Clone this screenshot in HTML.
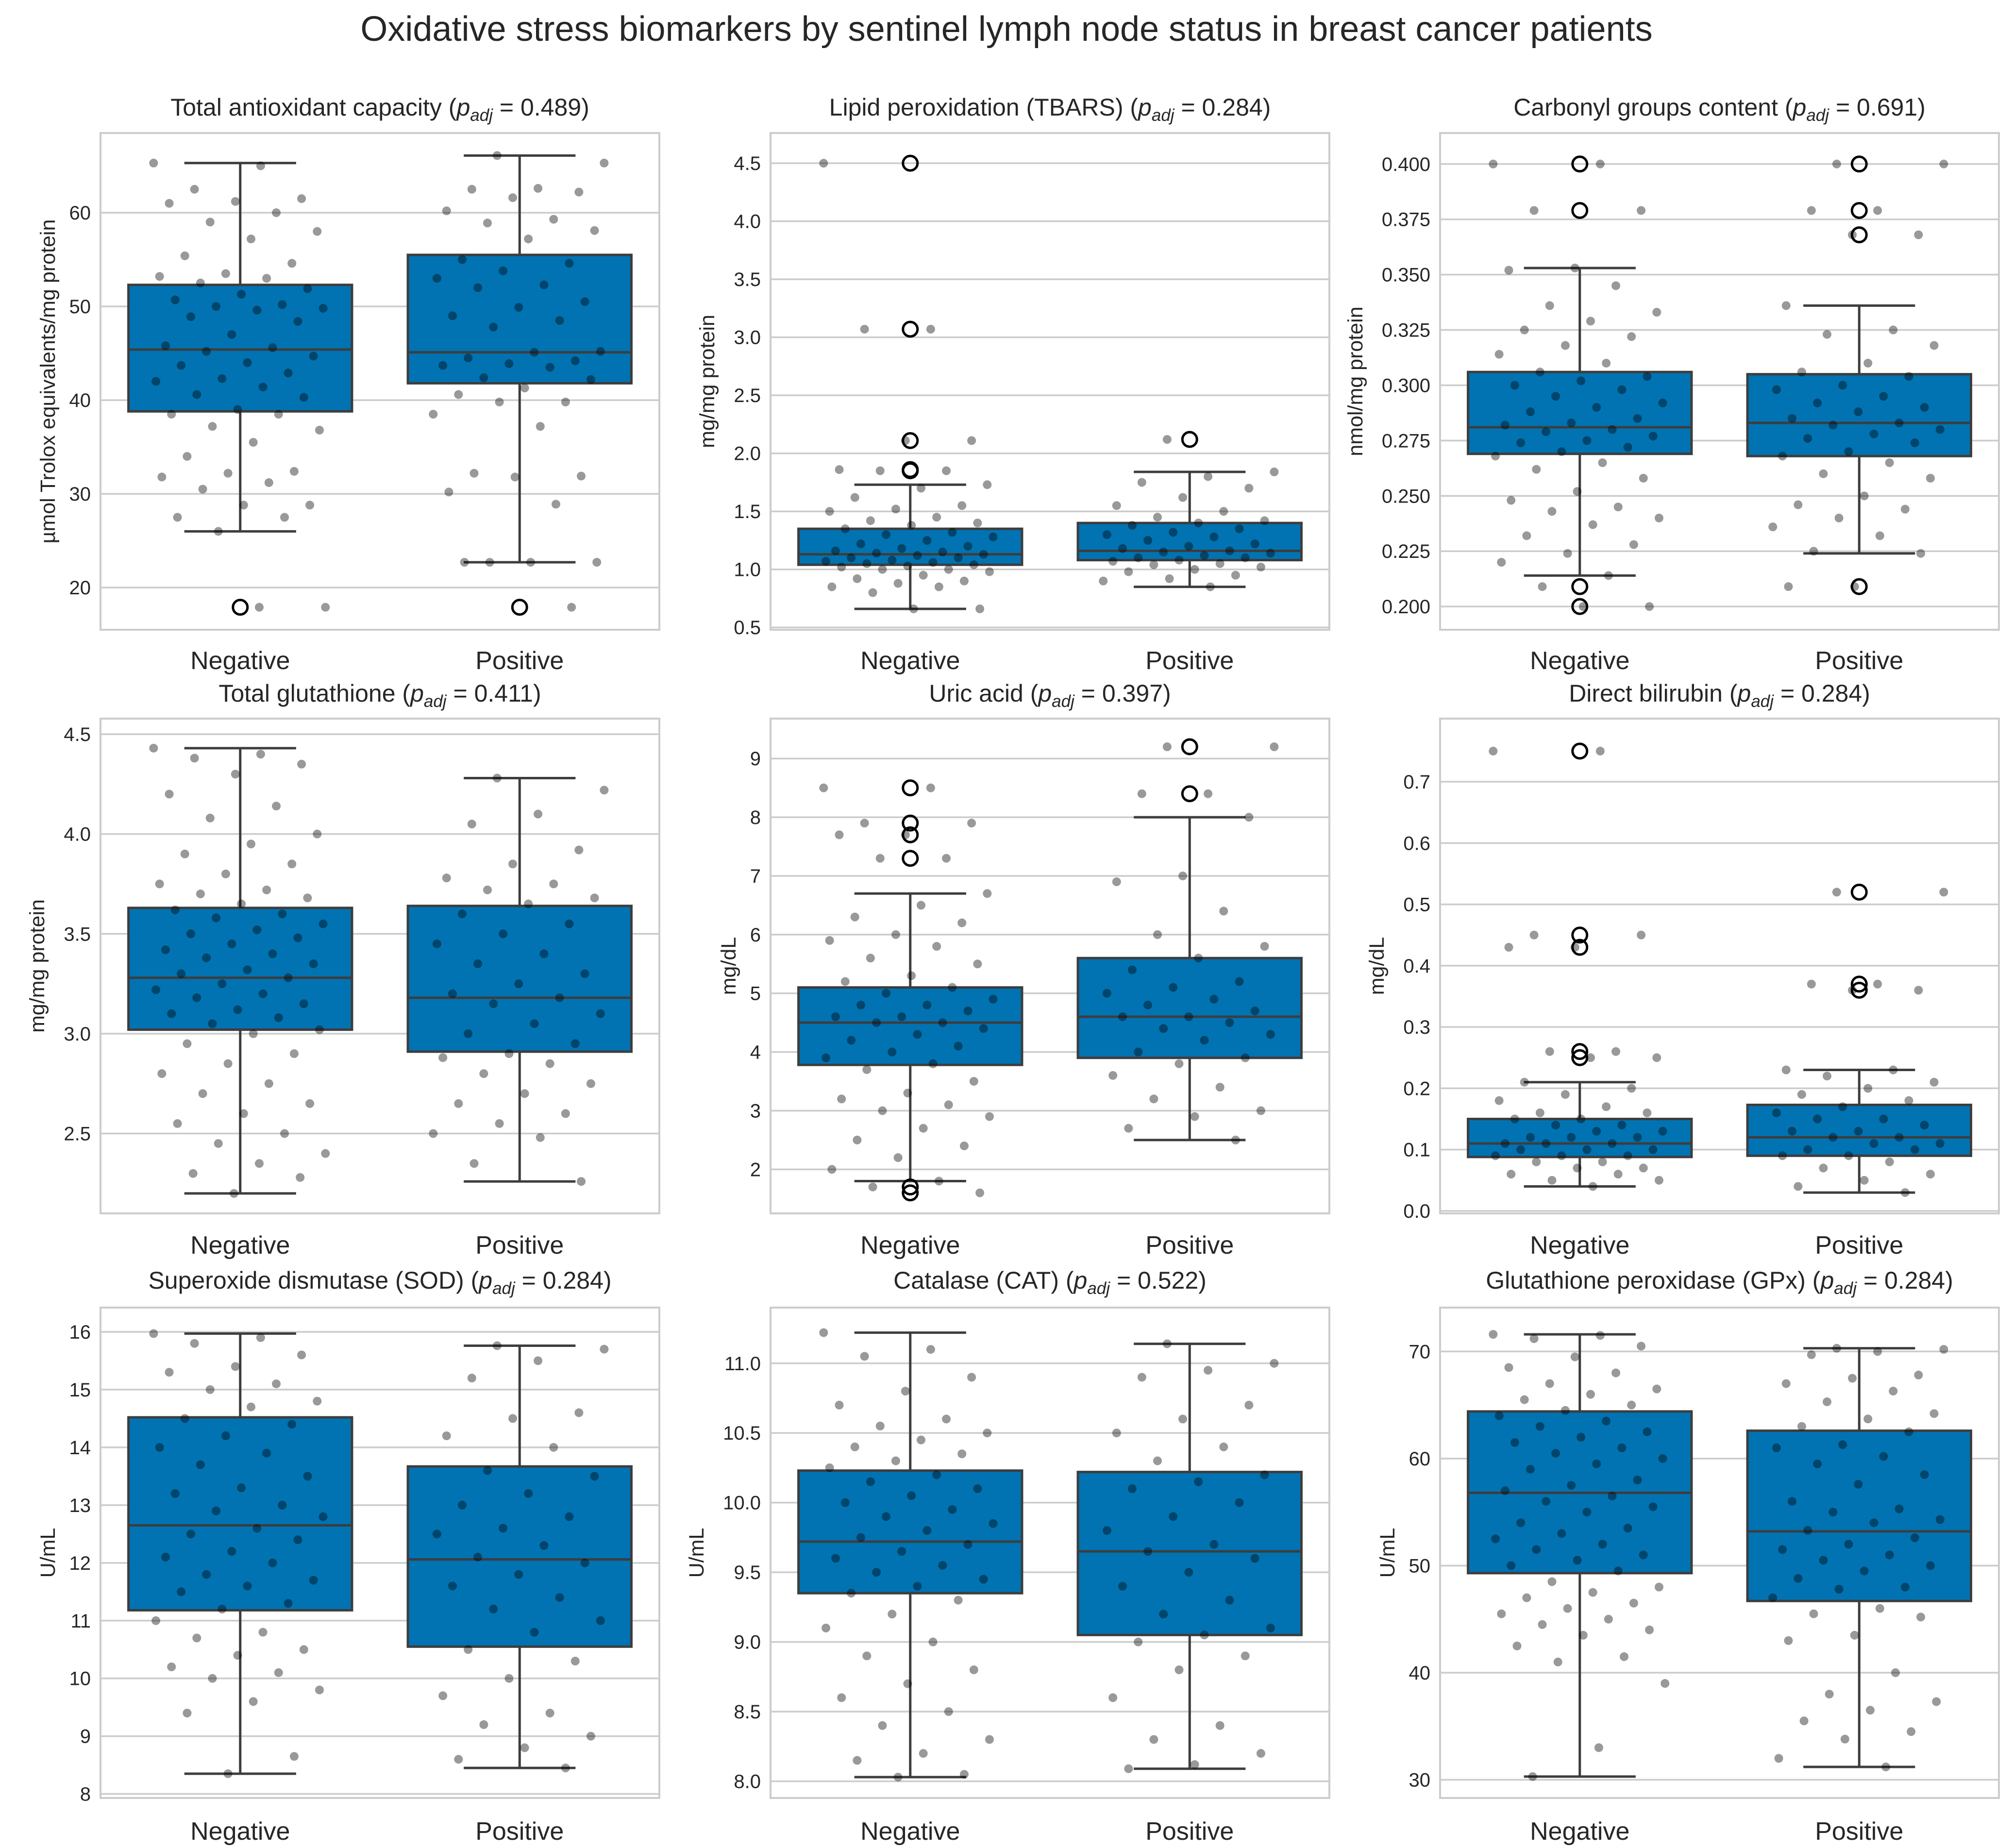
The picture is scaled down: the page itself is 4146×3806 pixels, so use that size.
<!DOCTYPE html>
<html><head><meta charset="utf-8"><style>
html,body{margin:0;padding:0;background:#fff;}
svg{display:block;font-family:"Liberation Sans","DejaVu Sans",sans-serif;}
</style></head><body>
<svg id="fig" width="4146" height="3806" viewBox="0 0 4146 3806" xmlns="http://www.w3.org/2000/svg">
<rect width="4146" height="3806" fill="#fff"/>
<text x="2073" y="84" font-size="72" text-anchor="middle" fill="#262626">Oxidative stress biomarkers by sentinel lymph node status in breast cancer patients</text>
</svg>
<script>
const categories = ["Negative","Positive"];
const titles = ["Total antioxidant capacity","Lipid peroxidation (TBARS)","Carbonyl groups content","Total glutathione","Uric acid","Direct bilirubin","Superoxide dismutase (SOD)","Catalase (CAT)","Glutathione peroxidase (GPx)"];
const pvals = ["0.489","0.284","0.691","0.411","0.397","0.284","0.284","0.522","0.284"];
const ylabels = ["µmol Trolox equivalents/mg protein","mg/mg protein","nmol/mg protein","mg/mg protein","mg/dL","mg/dL","U/mL","U/mL","U/mL"];
const ylims = [[15.5,68.5],[0.48,4.76],[0.1895,0.414],[2.10,4.578],[1.25,9.68],[-0.004,0.803],[7.93,16.42],[7.88,11.4],[28.3,74.1]];
const yticks = [[20,30,40,50,60],[0.5,1.0,1.5,2.0,2.5,3.0,3.5,4.0,4.5],[0.200,0.225,0.250,0.275,0.300,0.325,0.350,0.375,0.400],[2.5,3.0,3.5,4.0,4.5],[2,3,4,5,6,7,8,9],[0.0,0.1,0.2,0.3,0.4,0.5,0.6,0.7],[8,9,10,11,12,13,14,15,16],[8.0,8.5,9.0,9.5,10.0,10.5,11.0],[30,40,50,60,70]];
const tickDecimals = [0,1,3,1,0,1,0,1,0];
// [whiskerLow, q1, median, q3, whiskerHigh] per group
const boxNeg = [[26.0,38.8,45.4,52.3,65.3],[0.66,1.04,1.13,1.35,1.73],[0.214,0.269,0.281,0.306,0.353],[2.20,3.02,3.28,3.63,4.43],[1.8,3.78,4.5,5.1,6.7],[0.04,0.088,0.11,0.15,0.21],[8.35,11.18,12.65,14.52,15.97],[8.03,9.35,9.72,10.23,11.22],[30.3,49.3,56.8,64.4,71.6]];
const boxPos = [[22.7,41.8,45.1,55.5,66.1],[0.85,1.08,1.16,1.40,1.84],[0.224,0.268,0.283,0.305,0.336],[2.26,2.91,3.18,3.64,4.28],[2.5,3.9,4.6,5.6,8.0],[0.03,0.09,0.12,0.173,0.23],[8.45,10.55,12.06,13.67,15.76],[8.09,9.05,9.65,10.22,11.14],[31.2,46.7,53.2,62.6,70.3]];
const outNeg = [[17.9],[4.5,3.07,2.11,1.86,1.85],[0.400,0.379,0.209,0.200],[],[8.5,7.9,7.7,7.3,1.7,1.6],[0.75,0.45,0.43,0.26,0.25],[],[],[]];
const outPos = [[17.9],[2.12],[0.400,0.379,0.368,0.209],[],[9.2,8.4],[0.52,0.37,0.36],[],[],[]];
const ptsNeg = [
[65.3,65.0,62.5,61.5,61.2,61.0,60,59,58,57.2,55.4,54.6,53.5,53.2,53,52.5,51.9,51.3,50.7,50.2,50,49.8,49.6,48.9,48.4,47,45.8,45.6,45.2,44.7,44,43.7,42.9,42.3,42,41.4,40.6,40.3,39,38.5,38.5,37.2,36.8,35.5,34,32.4,32.2,31.8,31.2,30.5,28.8,28.8,27.5,27.5,26,17.9,17.9],
[4.5,3.07,3.07,2.11,2.11,1.86,1.85,1.85,1.73,1.7,1.62,1.55,1.52,1.5,1.45,1.42,1.4,1.38,1.35,1.32,1.3,1.28,1.25,1.22,1.2,1.18,1.16,1.15,1.14,1.13,1.12,1.1,1.1,1.08,1.07,1.06,1.05,1.04,1.03,1.02,1.0,1.0,0.98,0.95,0.92,0.9,0.88,0.85,0.85,0.8,0.66,0.66],
[0.4,0.4,0.379,0.379,0.353,0.352,0.345,0.336,0.333,0.329,0.325,0.322,0.318,0.314,0.31,0.306,0.304,0.302,0.3,0.298,0.295,0.292,0.29,0.288,0.285,0.283,0.282,0.28,0.279,0.277,0.275,0.274,0.272,0.27,0.268,0.265,0.262,0.258,0.252,0.248,0.245,0.243,0.24,0.237,0.232,0.228,0.224,0.22,0.214,0.209,0.2,0.2],
[4.43,4.4,4.38,4.35,4.3,4.2,4.14,4.08,4.0,3.95,3.9,3.85,3.8,3.75,3.72,3.7,3.68,3.65,3.62,3.6,3.58,3.55,3.52,3.5,3.48,3.45,3.42,3.4,3.38,3.35,3.32,3.3,3.28,3.25,3.22,3.2,3.18,3.15,3.12,3.1,3.08,3.05,3.02,3.0,2.95,2.9,2.85,2.8,2.75,2.7,2.65,2.6,2.55,2.5,2.45,2.4,2.35,2.3,2.28,2.2],
[8.5,8.5,7.9,7.9,7.7,7.7,7.3,7.3,6.7,6.5,6.3,6.2,6.0,5.9,5.8,5.6,5.5,5.3,5.2,5.1,5.0,4.9,4.8,4.8,4.7,4.6,4.6,4.5,4.5,4.4,4.3,4.2,4.1,4.0,3.9,3.8,3.7,3.5,3.3,3.2,3.1,3.0,2.9,2.7,2.5,2.4,2.2,2.0,1.8,1.7,1.6],
[0.75,0.75,0.45,0.45,0.43,0.43,0.26,0.26,0.25,0.25,0.21,0.2,0.19,0.18,0.17,0.16,0.16,0.15,0.15,0.14,0.14,0.13,0.13,0.12,0.12,0.12,0.11,0.11,0.11,0.1,0.1,0.1,0.09,0.09,0.09,0.08,0.08,0.07,0.07,0.06,0.06,0.05,0.05,0.04],
[15.97,15.9,15.8,15.6,15.4,15.3,15.1,15.0,14.8,14.7,14.5,14.4,14.2,14.0,13.9,13.7,13.5,13.3,13.2,13.0,12.9,12.8,12.6,12.5,12.4,12.2,12.1,12.0,11.8,11.7,11.6,11.5,11.3,11.2,11.0,10.8,10.7,10.5,10.4,10.2,10.1,10.0,9.8,9.6,9.4,8.65,8.35],
[11.22,11.1,11.05,10.9,10.8,10.7,10.6,10.55,10.5,10.45,10.4,10.35,10.3,10.25,10.2,10.15,10.1,10.05,10.0,9.95,9.9,9.85,9.8,9.75,9.7,9.65,9.6,9.55,9.5,9.45,9.4,9.35,9.3,9.2,9.1,9.0,8.9,8.8,8.7,8.6,8.5,8.4,8.3,8.2,8.15,8.05,8.03],
[71.6,71.5,71.2,70.5,69.5,68.5,68,67,66.5,66,65.5,65,64.5,64,63.5,63,62.5,62,61.5,61,60.5,60,59.5,59,58,57.5,57,56.5,56,55.5,55,54,53.5,53,52.5,52,51.5,51,50.5,50,49.5,48.5,48,47.5,47,46.5,46,45.5,45,44.5,44,43.5,42.5,41.5,41,39,33,30.3]];
const ptsPos = [
[66.1,65.3,62.6,62.5,62.2,61.6,60.2,59.3,58.9,58.1,57.2,55,54.6,53.8,53,52.3,52,50.5,49.9,49,48.5,47.8,45.2,45.1,44.5,44.2,43.9,43.7,43.5,42.4,42.2,41.3,40.6,39.8,39.8,38.5,37.2,32.2,31.9,31.8,30.2,28.9,22.7,22.7,22.7,22.7,17.9],
[2.12,1.84,1.8,1.75,1.7,1.62,1.55,1.5,1.45,1.42,1.4,1.38,1.35,1.32,1.3,1.28,1.25,1.22,1.2,1.18,1.16,1.15,1.14,1.12,1.1,1.1,1.08,1.07,1.05,1.04,1.02,1.0,0.98,0.95,0.92,0.9,0.85],
[0.4,0.4,0.379,0.379,0.368,0.368,0.336,0.325,0.323,0.318,0.31,0.306,0.304,0.3,0.298,0.295,0.292,0.29,0.288,0.285,0.283,0.282,0.28,0.278,0.276,0.274,0.27,0.268,0.265,0.26,0.258,0.25,0.246,0.244,0.24,0.236,0.232,0.225,0.224,0.209,0.209],
[4.28,4.22,4.1,4.05,3.92,3.85,3.78,3.75,3.72,3.68,3.65,3.6,3.55,3.5,3.45,3.4,3.35,3.3,3.25,3.2,3.18,3.15,3.1,3.05,3.0,2.95,2.9,2.88,2.85,2.8,2.75,2.7,2.65,2.6,2.55,2.5,2.48,2.35,2.26],
[9.2,9.2,8.4,8.4,8.0,7.0,6.9,6.4,6.0,5.8,5.6,5.4,5.2,5.1,5.0,4.9,4.8,4.7,4.6,4.6,4.5,4.4,4.3,4.2,4.0,3.9,3.8,3.6,3.4,3.2,3.0,2.9,2.7,2.5],
[0.52,0.52,0.37,0.37,0.36,0.36,0.23,0.23,0.22,0.21,0.2,0.19,0.18,0.17,0.16,0.15,0.15,0.14,0.13,0.13,0.12,0.12,0.11,0.11,0.1,0.1,0.09,0.09,0.08,0.07,0.06,0.05,0.04,0.03],
[15.76,15.7,15.5,15.2,14.6,14.5,14.2,14.0,13.6,13.5,13.2,13.0,12.8,12.6,12.5,12.3,12.1,12.0,11.8,11.6,11.4,11.2,11.0,10.8,10.5,10.3,10.0,9.7,9.4,9.2,9.0,8.8,8.6,8.45],
[11.14,11.0,10.95,10.9,10.7,10.6,10.5,10.4,10.3,10.2,10.15,10.1,10.0,9.9,9.8,9.7,9.65,9.6,9.5,9.4,9.3,9.2,9.1,9.05,9.0,8.9,8.8,8.6,8.4,8.3,8.2,8.12,8.09],
[70.3,70.2,70,69.7,67.8,67.5,67,66.3,65.3,64.2,63.7,63,62.5,61.3,61,60.2,59.5,58.5,57.6,56,55.3,55,54.3,54,53.3,52.6,52,51.5,51,50.5,50,49.5,48.8,48,47.8,47,46,45.5,45.2,43.5,43,40,38,37.3,36.5,35.5,34.5,33.8,32,31.2]];

const NS="http://www.w3.org/2000/svg";
const svg=document.getElementById('fig');
const colX=[[207,1358],[1587,2738],[2966,4117]];
const rowY=[[274,1297],[1480,2499],[2693,3703]];
const titleY=[238,1445,2654];
const catY=[1378,2582,3789];
function mk(tag,attrs,parent){const e=document.createElementNS(NS,tag);for(const k in attrs)e.setAttribute(k,attrs[k]);(parent||svg).appendChild(e);return e;}

for(let p=0;p<9;p++){
  const r=Math.floor(p/3),c=p%3;
  const L=colX[c][0],R=colX[c][1],T=rowY[r][0],B=rowY[r][1],W=R-L;
  const [y0,y1]=ylims[p];
  const yS=v=>B-(v-y0)/(y1-y0)*(B-T);
  const xS=i=>L+W*(0.25+0.5*i);
  const g=mk('g',{});
  
  
  let maxw=0;
  yticks[p].forEach(t=>{
    const y=yS(t);
    const gl=mk('line',{x1:L,x2:R,y1:y,y2:y,stroke:'#cccccc','stroke-width':3.5},g);
    
    
    const s=t.toFixed(tickDecimals[p]);
    maxw=Math.max(maxw,s.length*22);
    const tx=mk('text',{x:L-20,y:y+14,'font-size':40,'text-anchor':'end',fill:'#262626'},g);
    tx.textContent=s;
    
    
  });
  const fr=mk('rect',{x:L,y:T,width:W,height:B-T,fill:'none',stroke:'#cccccc','stroke-width':4},g);
  
  
  const lx=L-20-maxw-30;
  const yl=mk('text',{x:lx,y:(T+B)/2,'font-size':43,'text-anchor':'middle',fill:'#262626',transform:`rotate(-90 ${lx} ${(T+B)/2})`},g);
  yl.textContent=ylabels[p];
  
  
  const tt=mk('text',{x:(L+R)/2,y:titleY[r],'font-size':50,'text-anchor':'middle',fill:'#262626'},g);
  tt.innerHTML=titles[p]+' (<tspan font-style="italic">p</tspan><tspan font-style="italic" font-size="35" dy="11">adj</tspan><tspan dy="-11"> = '+pvals[p]+')</tspan>';
  
  
  const boxes=[boxNeg[p],boxPos[p]], outs=[outNeg[p],outPos[p]], pts=[ptsNeg[p],ptsPos[p]];
  for(let i=0;i<2;i++){
    const cx=xS(i), hw=W*0.20, cw=W*0.10;
    const [lo,q1,md,q3,hi]=boxes[i];
    const stroke='#3d3d3d',sw=5;
    const wl=mk('line',{x1:cx,x2:cx,y1:yS(lo),y2:yS(hi),stroke,'stroke-width':sw},g);
    
    
    [lo,hi].forEach(v=>{const cap=mk('line',{x1:cx-cw,x2:cx+cw,y1:yS(v),y2:yS(v),stroke,'stroke-width':sw},g);
      
      });
    const bx=mk('rect',{x:cx-hw,y:yS(q3),width:2*hw,height:yS(q1)-yS(q3),fill:'#0173b2',stroke,'stroke-width':sw},g);
    
    
    const ml=mk('line',{x1:cx-hw,x2:cx+hw,y1:yS(md),y2:yS(md),stroke,'stroke-width':sw},g);
    
    
    outs[i].forEach(v=>{const o=mk('circle',{cx:cx,cy:yS(v),r:15,fill:'none',stroke:'#000','stroke-width':5},g);
      
      });
    pts[i].forEach((v,k)=>{
      const f=((k*0.6180339+0.37*i)%1)-0.5;
      const d=mk('circle',{cx:cx+f*2*W*0.155,cy:yS(v),r:9,fill:'#000','fill-opacity':0.4},g);
      
      
    });
    const cl=mk('text',{x:cx,y:catY[r],'font-size':52,'text-anchor':'middle',fill:'#262626'},g);
    cl.textContent=categories[i];
    
    
  }
}
</script>
</body></html>
